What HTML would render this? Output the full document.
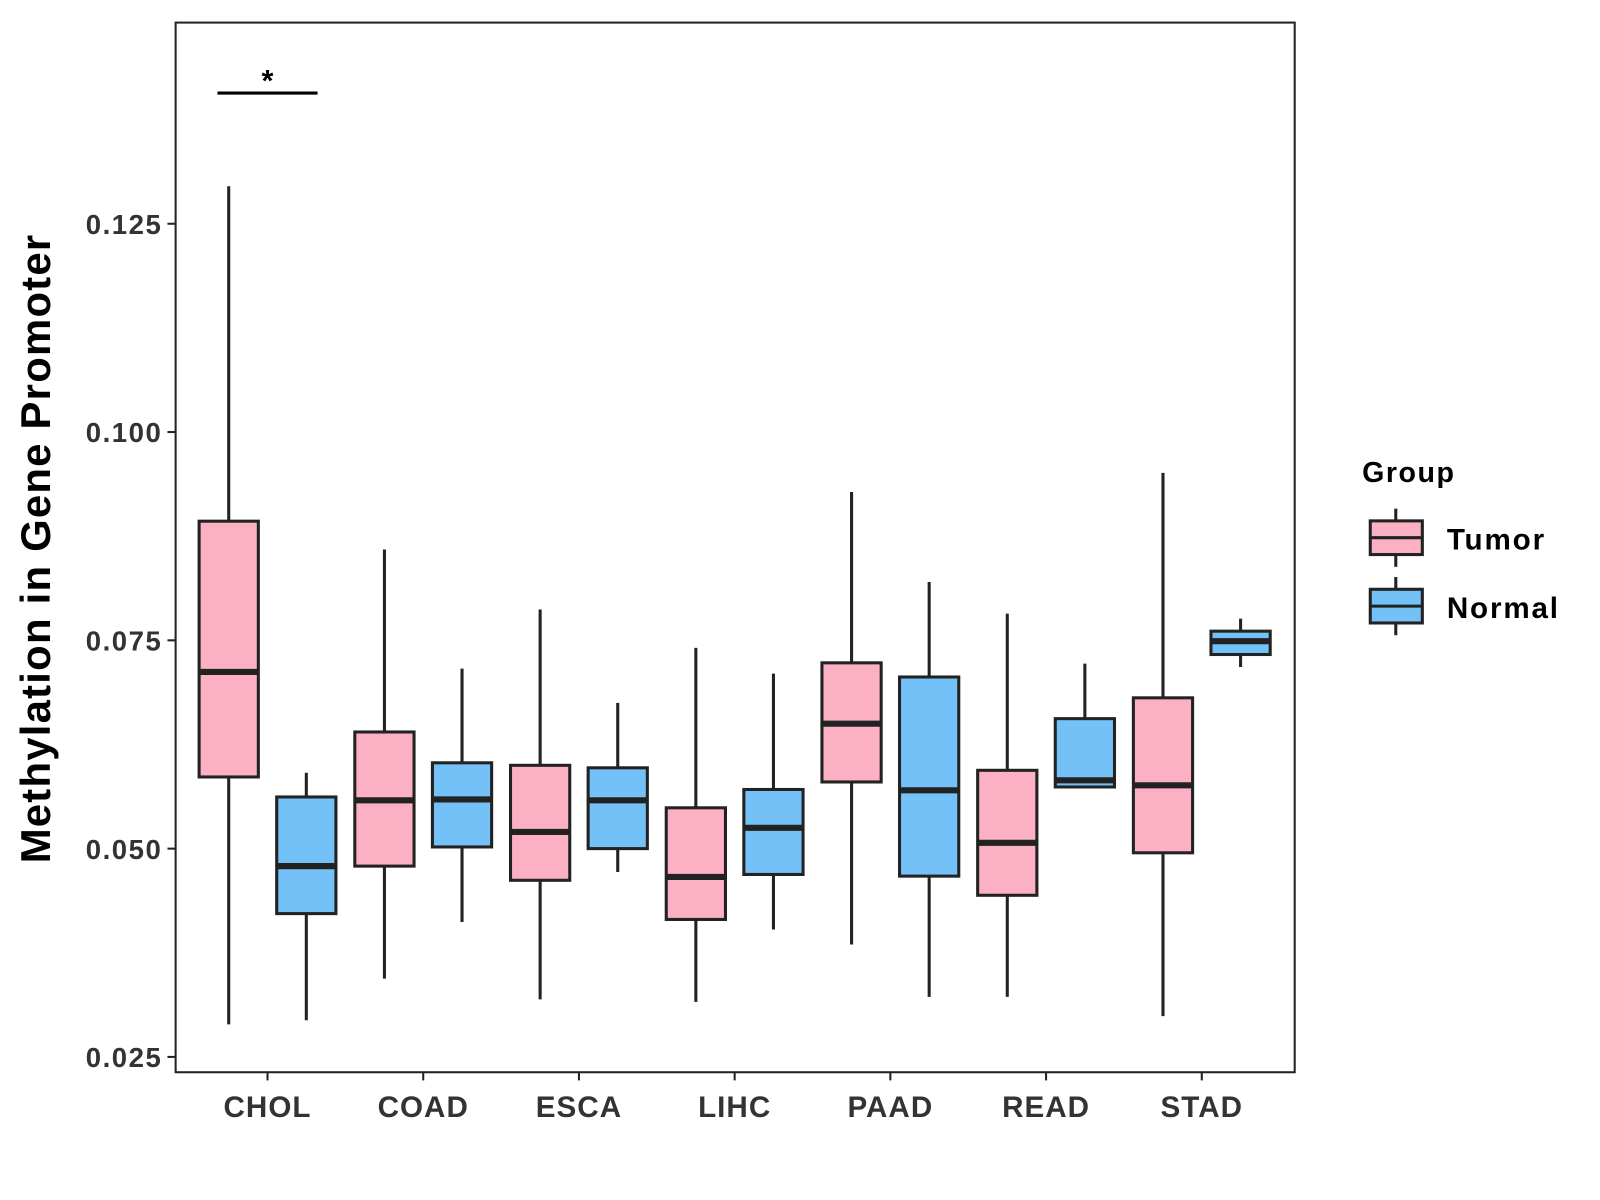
<!DOCTYPE html>
<html><head><meta charset="utf-8"><style>
html,body{margin:0;padding:0;background:#fff;}
svg{display:block;font-family:"Liberation Sans",Arial,sans-serif;font-weight:bold;}
</style></head><body>
<svg id="chart" width="1600" height="1200" viewBox="0 0 1567 1175" xmlns="http://www.w3.org/2000/svg">
<rect x="172" y="22" width="1096" height="1028" fill="#fff" stroke="#222" stroke-width="2"/>
<g id="marks"></g>
<text x="38" y="537" transform="rotate(-90 38 537)" text-anchor="middle" font-size="41" letter-spacing="1.2" fill="#000" dominant-baseline="middle">Methylation in Gene Promoter</text>
<g>
<text x="1334" y="472" font-size="28" letter-spacing="1.5" fill="#000">Group</text>
<g>
<line x1="1367" y1="498" x2="1367" y2="555" stroke="#222" stroke-width="3"/>
<rect x="1342" y="510" width="51" height="33" fill="#FBB1C3" stroke="#222" stroke-width="3"/>
<line x1="1342" y1="526.5" x2="1393" y2="526.5" stroke="#222" stroke-width="3"/>
<text x="1417" y="538" font-size="29" letter-spacing="1.8" fill="#000">Tumor</text>
</g>
<g>
<line x1="1367" y1="565" x2="1367" y2="622" stroke="#222" stroke-width="3"/>
<rect x="1342" y="577" width="51" height="33" fill="#74C1F8" stroke="#222" stroke-width="3"/>
<line x1="1342" y1="593.5" x2="1393" y2="593.5" stroke="#222" stroke-width="3"/>
<text x="1417" y="605" font-size="29" letter-spacing="1.8" fill="#000">Normal</text>
</g>
</g>
<g>
<line x1="213" y1="91" x2="311" y2="91" stroke="#000" stroke-width="3"/>
<text x="262" y="89" text-anchor="middle" font-size="30" fill="#000">*</text>
</g>
</svg>
<script>
const categories = ["CHOL","COAD","ESCA","LIHC","PAAD","READ","STAD"];
const yTicks = [0.025,0.050,0.075,0.100,0.125];
const yTickLabels = ["0.025","0.050","0.075","0.100","0.125"];
// [lowWhisker, q1, median, q3, highWhisker]
const tumorStats = [
 [0.0289,0.0586,0.0712,0.0893,0.1295],
 [0.0344,0.0479,0.0558,0.0640,0.0859],
 [0.0319,0.0462,0.0520,0.0600,0.0787],
 [0.0316,0.0415,0.0466,0.0549,0.0741],
 [0.0385,0.0580,0.0650,0.0723,0.0928],
 [0.0322,0.0444,0.0507,0.0594,0.0782],
 [0.0299,0.0495,0.0576,0.0681,0.0951]
];
const normalStats = [
 [0.0294,0.0422,0.0479,0.0562,0.0591],
 [0.0412,0.0502,0.0559,0.0603,0.0716],
 [0.0472,0.0500,0.0558,0.0597,0.0675],
 [0.0403,0.0469,0.0525,0.0571,0.0710],
 [0.0322,0.0467,0.0570,0.0706,0.0820],
 [0.0574,0.0574,0.0582,0.0656,0.0722],
 [0.0718,0.0733,0.0749,0.0761,0.0776]
];
const NS="http://www.w3.org/2000/svg";
const g=document.getElementById('marks');
function y(v){return 1035-(v-0.025)*8160;}
function x(i){return 262+i*152.5;}
function mk(t,a){const e=document.createElementNS(NS,t);for(const k in a)e.setAttribute(k,a[k]);g.appendChild(e);return e;}
yTicks.forEach((v,i)=>{
 const t=mk('line',{x1:164,x2:172,y1:y(v),y2:y(v),stroke:'#222','stroke-width':2});
 
 
 const l=mk('text',{x:159,y:y(v)+10,'text-anchor':'end','font-size':27,'letter-spacing':1.5,fill:'#333'});
 l.textContent=yTickLabels[i];
 
 
});
categories.forEach((c,i)=>{
 const t=mk('line',{x1:x(i),x2:x(i),y1:1050,y2:1058,stroke:'#222','stroke-width':2});
 
 
 const l=mk('text',{x:x(i),y:1094,'text-anchor':'middle','font-size':29,'letter-spacing':1,fill:'#333'});
 l.textContent=c;
 
 
});
function box(cx,s,fill,name){
 const w=58;
 const wl=mk('line',{x1:cx,x2:cx,y1:y(s[0]),y2:y(s[4]),stroke:'#222','stroke-width':3});
 
 
 const r=mk('rect',{x:cx-w/2,y:y(s[3]),width:w,height:y(s[1])-y(s[3]),fill:fill,stroke:'#222','stroke-width':3});
 
 
 const m=mk('line',{x1:cx-w/2,x2:cx+w/2,y1:y(s[2]),y2:y(s[2]),stroke:'#222','stroke-width':6});
 
 
}
categories.forEach((c,i)=>{
 box(x(i)-38,tumorStats[i],'#FBB1C3',c.toLowerCase()+'-tumor');
 box(x(i)+38,normalStats[i],'#74C1F8',c.toLowerCase()+'-normal');
});
</script>
</body></html>
